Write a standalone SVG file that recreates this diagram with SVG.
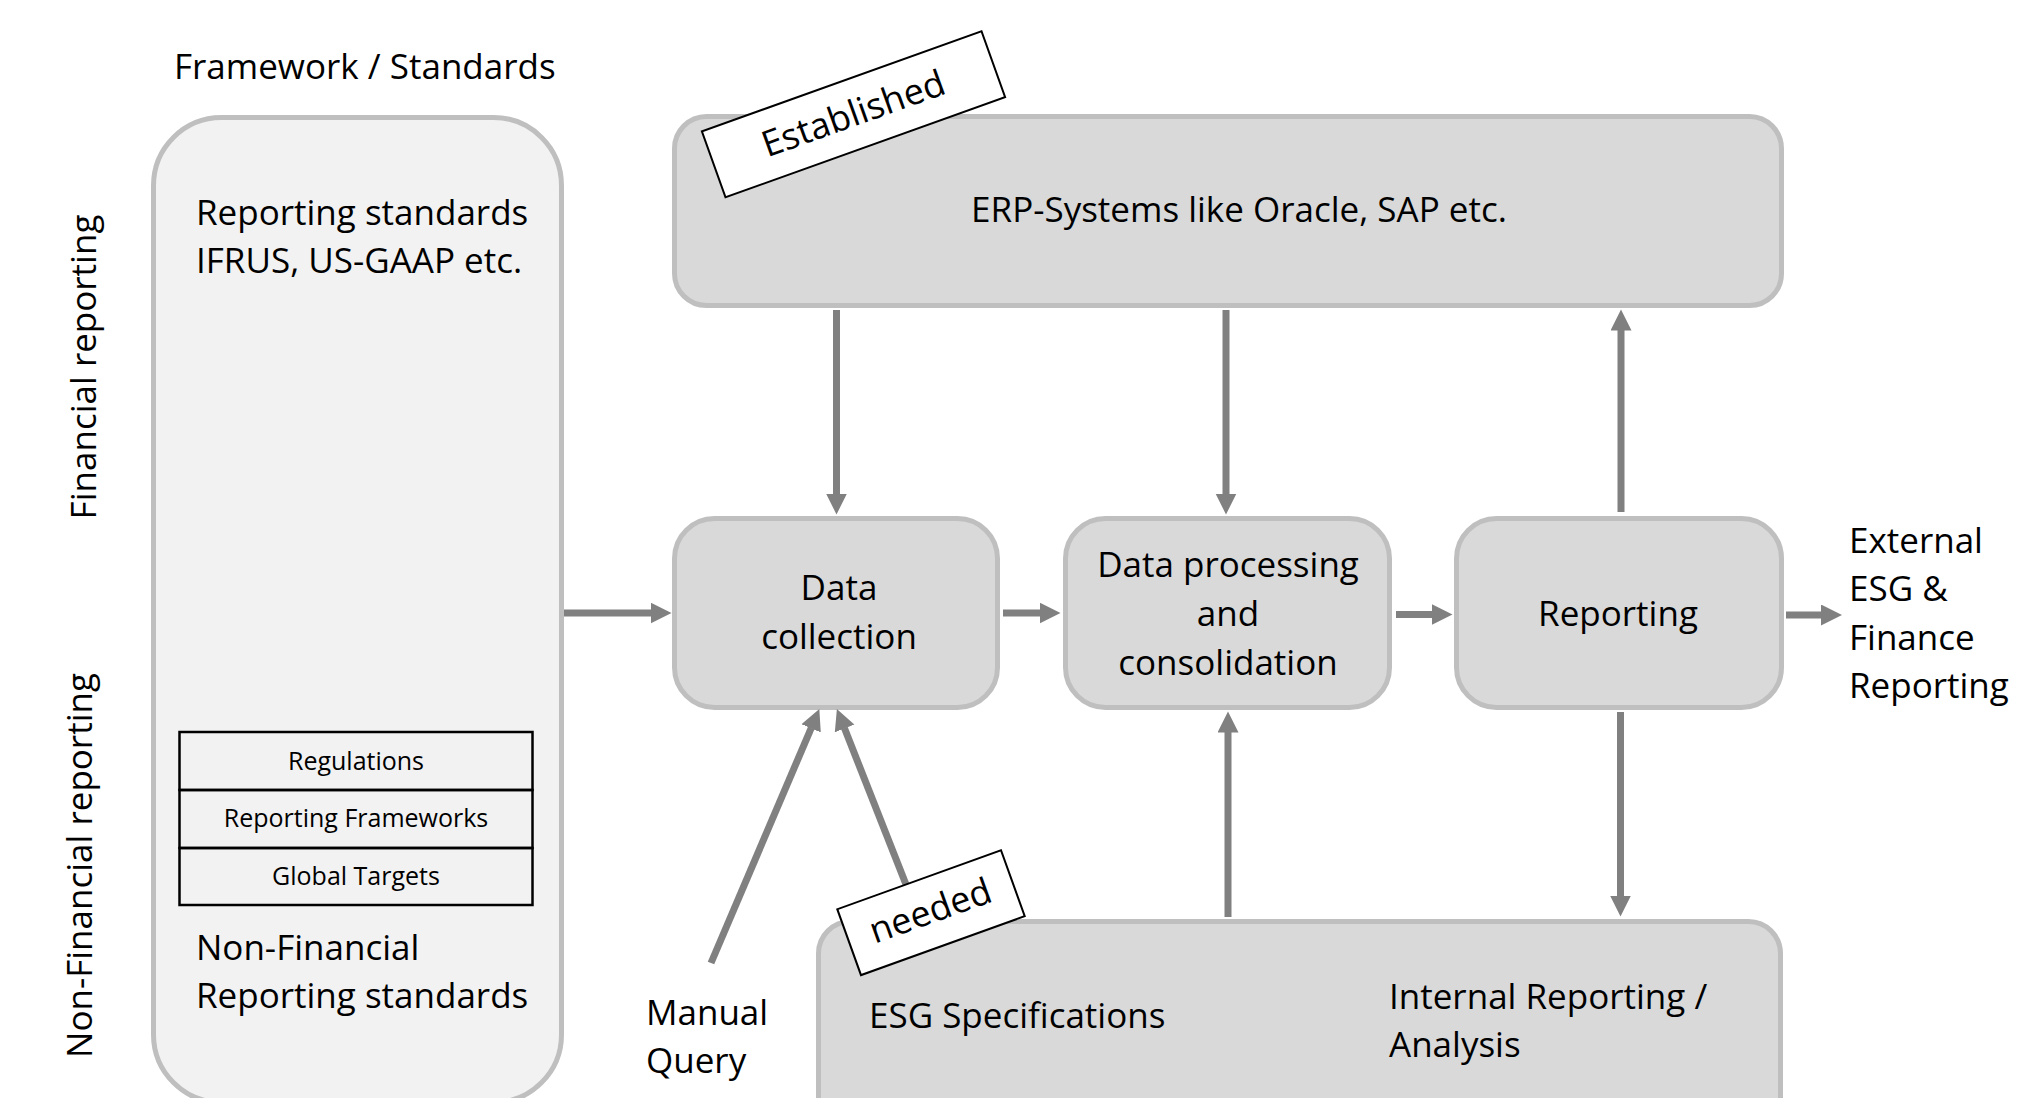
<svg xmlns="http://www.w3.org/2000/svg" width="2030" height="1098" viewBox="0 0 2030 1098">
  <style>
    text { font-family: "Open Sans", "Noto Sans", "Liberation Sans", sans-serif; fill: #000; }
    .t35 { font-size: 35px; }
    .t25 { font-size: 25px; }
    .tag { font-size: 36px; }
    .mid { text-anchor: middle; }
    .frame { fill: #f2f2f2; stroke: #bfbfbf; stroke-width: 5; }
    .node { fill: #d9d9d9; stroke: #bfbfbf; stroke-width: 5; }
    .cell { fill: none; stroke: #000; stroke-width: 2.5; }
    .tagbox { fill: #fff; stroke: #000; stroke-width: 2; }
    .conn { stroke: #808080; stroke-width: 7; fill: none; marker-end: url(#ah); }
  </style>
  <defs>
    <marker id="ah" markerUnits="userSpaceOnUse" markerWidth="22" markerHeight="22" refX="0.5" refY="10.5" orient="auto">
      <path d="M0,0 L21,10.5 L0,21 z" fill="#808080"/>
    </marker>
  </defs>

  <rect width="2030" height="1098" fill="#fff"/>

  <text class="t35" x="174" y="79">Framework / Standards</text>
  <text class="t35 mid" transform="translate(95.5,367) rotate(-90)">Financial reporting</text>
  <text class="t35 mid" transform="translate(91.5,865.5) rotate(-90)">Non-Financial reporting</text>

  <g id="standards">
    <rect class="frame" x="153.5" y="117.5" width="408" height="985" rx="68"/>
    <text class="t35" x="196" y="225">Reporting standards</text>
    <text class="t35" x="196" y="273">IFRUS, US-GAAP etc.</text>
    <rect class="cell" x="179.5" y="732" width="353" height="58"/>
    <rect class="cell" x="179.5" y="790" width="353" height="58"/>
    <rect class="cell" x="179.5" y="848" width="353" height="57"/>
    <text class="t25 mid" x="356" y="770">Regulations</text>
    <text class="t25 mid" x="356" y="827">Reporting Frameworks</text>
    <text class="t25 mid" x="356" y="885">Global Targets</text>
    <text class="t35" x="196" y="960">Non-Financial</text>
    <text class="t35" x="196" y="1008">Reporting standards</text>
  </g>

  <g id="erp">
    <rect class="node" x="674.5" y="116.5" width="1107" height="189" rx="32"/>
    <text class="t35 mid" x="1239" y="222">ERP-Systems like Oracle, SAP etc.</text>
  </g>

  <g id="data-collection">
    <rect class="node" x="674.5" y="518.5" width="323" height="189" rx="40"/>
    <text class="t35 mid" x="839" y="600">Data</text>
    <text class="t35 mid" x="839" y="649">collection</text>
  </g>

  <g id="data-processing">
    <rect class="node" x="1065.5" y="518.5" width="324" height="189" rx="40"/>
    <text class="t35 mid" x="1228" y="577">Data processing</text>
    <text class="t35 mid" x="1228" y="626">and</text>
    <text class="t35 mid" x="1228" y="675">consolidation</text>
  </g>

  <g id="reporting">
    <rect class="node" x="1456.5" y="518.5" width="325" height="189" rx="40"/>
    <text class="t35 mid" x="1618" y="626">Reporting</text>
  </g>

  <g id="external">
    <text class="t35" x="1849" y="553">External</text>
    <text class="t35" x="1849" y="601">ESG &amp;</text>
    <text class="t35" x="1849" y="650">Finance</text>
    <text class="t35" x="1849" y="698">Reporting</text>
  </g>

  <g id="manual-query">
    <text class="t35" x="646" y="1025">Manual</text>
    <text class="t35" x="646" y="1073">Query</text>
  </g>

  <g id="esg-internal">
    <rect class="node" x="818.5" y="921.5" width="962" height="220" rx="32"/>
    <text class="t35" x="869" y="1028">ESG Specifications</text>
    <text class="t35" x="1389" y="1009">Internal Reporting /</text>
    <text class="t35" x="1389" y="1057">Analysis</text>
  </g>

  <g id="connectors">
    <line class="conn" x1="564" y1="613" x2="651" y2="613"/>
    <line class="conn" x1="1003" y1="613" x2="1040" y2="613"/>
    <line class="conn" x1="1396" y1="614.5" x2="1432" y2="614.5"/>
    <line class="conn" x1="1786" y1="615" x2="1821.5" y2="615"/>
    <line class="conn" x1="836.5" y1="310" x2="836.5" y2="494"/>
    <line class="conn" x1="1226" y1="310" x2="1226" y2="494"/>
    <line class="conn" x1="1621" y1="512" x2="1621" y2="330"/>
    <line class="conn" x1="1620.5" y1="712" x2="1620.5" y2="896"/>
    <line class="conn" x1="1228" y1="917" x2="1228" y2="732"/>
    <line class="conn" x1="711" y1="963" x2="811.3" y2="727.8"/>
    <line class="conn" x1="907" y1="887" x2="844.4" y2="728"/>
  </g>

  <g id="tag-established" transform="rotate(-19.7 853.5 114.3)">
    <rect class="tagbox" x="705" y="79.3" width="297" height="70"/>
    <text class="tag mid" x="853.5" y="126">Established</text>
  </g>

  <g id="tag-needed" transform="rotate(-19.8 931 912.7)">
    <rect class="tagbox" x="844" y="877.7" width="174" height="70"/>
    <text class="tag mid" x="931" y="923">needed</text>
  </g>
</svg>
